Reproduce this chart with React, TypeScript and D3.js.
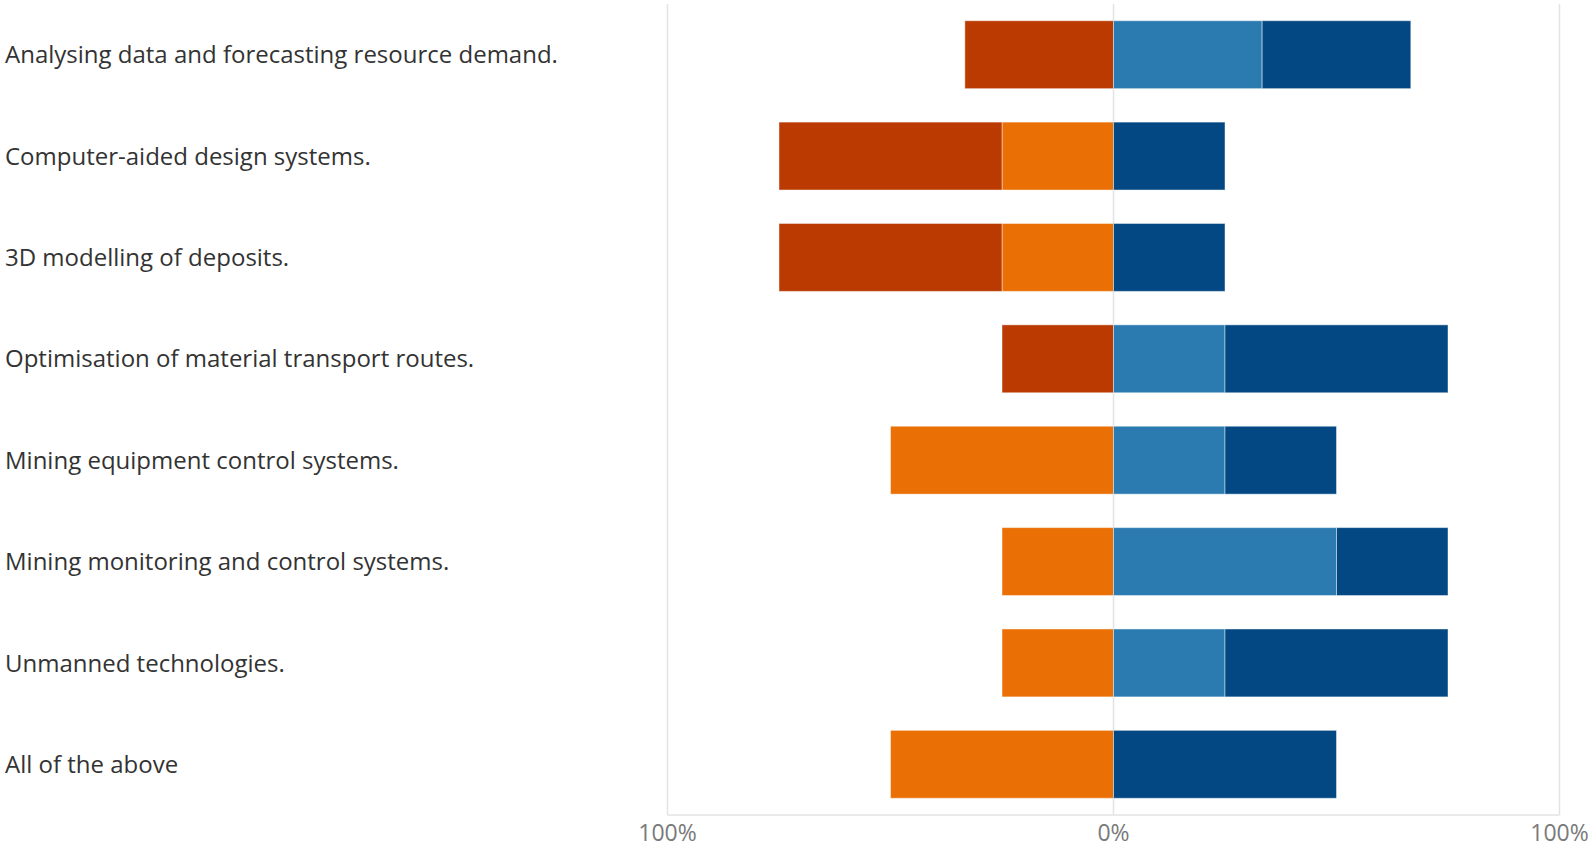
import React from "react";
import * as d3 from "d3";

const categories = [
  "Analysing data and forecasting resource demand.",
  "Computer-aided design systems.",
  "3D modelling of deposits.",
  "Optimisation of material transport routes.",
  "Mining equipment control systems.",
  "Mining monitoring and control systems.",
  "Unmanned technologies.",
  "All of the above",
];
const stronglyDisagree = [33.33, 50, 50, 25, 0, 0, 0, 0];
const disagree = [0, 25, 25, 0, 50, 25, 25, 50];
const agree = [33.33, 0, 0, 25, 25, 50, 25, 0];
const stronglyAgree = [33.33, 25, 25, 50, 25, 25, 50, 50];
const tickValues = [-100, 0, 100];
const tickLabels = ["100%", "0%", "100%"];

const colors = {
  sd: "#BA3A02",
  d: "#EA7006",
  a: "#2C7BB0",
  sa: "#034882",
};

const W = 1593;
const H = 848;
const plotLeft = 667.5;
const plotRight = 1559.5;
const plotTop = 4;
const plotBottom = 815;

export default function App() {
  const x = d3.scaleLinear().domain([-100, 100]).range([plotLeft, plotRight]);
  const y = d3
    .scaleBand<string>()
    .domain(categories)
    .range([plotTop, plotBottom])
    .paddingInner(0.33)
    .paddingOuter(0.165);

  const segs: { key: string; x0: number; x1: number; color: string; row: string }[] = [];
  categories.forEach((c, i) => {
    const d1 = -disagree[i];
    const sd1 = d1 - stronglyDisagree[i];
    if (disagree[i] > 0) segs.push({ key: c + "d", x0: d1, x1: 0, color: colors.d, row: c });
    if (stronglyDisagree[i] > 0) segs.push({ key: c + "sd", x0: sd1, x1: d1, color: colors.sd, row: c });
    const a1 = agree[i];
    const sa1 = a1 + stronglyAgree[i];
    if (agree[i] > 0) segs.push({ key: c + "a", x0: 0, x1: a1, color: colors.a, row: c });
    if (stronglyAgree[i] > 0) segs.push({ key: c + "sa", x0: a1, x1: sa1, color: colors.sa, row: c });
  });

  return (
    <svg
      width={W}
      height={H}
      style={{ position: "absolute", left: 0, top: 0, background: "#fff" }}
      fontFamily="'Open Sans', 'Segoe UI', sans-serif"
    >
      {tickValues.map((t) => (
        <line
          key={"g" + t}
          x1={x(t)}
          x2={x(t)}
          y1={plotTop}
          y2={plotBottom}
          stroke="#e3e3e3"
          strokeWidth={1.5}
        />
      ))}
      <line x1={x(-100)} x2={x(100)} y1={plotBottom} y2={plotBottom} stroke="#e3e3e3" strokeWidth={1.5} />
      {segs.map((s) => (
        <rect
          key={s.key}
          x={x(s.x0)}
          y={y(s.row)!}
          width={x(s.x1) - x(s.x0)}
          height={y.bandwidth()}
          fill={s.color}
          stroke="rgba(255,255,255,0.45)"
          strokeWidth={1}
        />
      ))}
      {categories.map((c) => (
        <text
          key={"l" + c}
          x={5}
          y={y(c)! + y.bandwidth() / 2 + 8.6}
          fontSize={24}
          fill="#333"
        >
          {c}
        </text>
      ))}
      {tickValues.map((t, i) => (
        <text
          key={"t" + i}
          x={x(t)}
          y={841}
          textAnchor="middle"
          fontSize={23}
          fill="#7a7a7a"
        >
          {tickLabels[i]}
        </text>
      ))}
    </svg>
  );
}
